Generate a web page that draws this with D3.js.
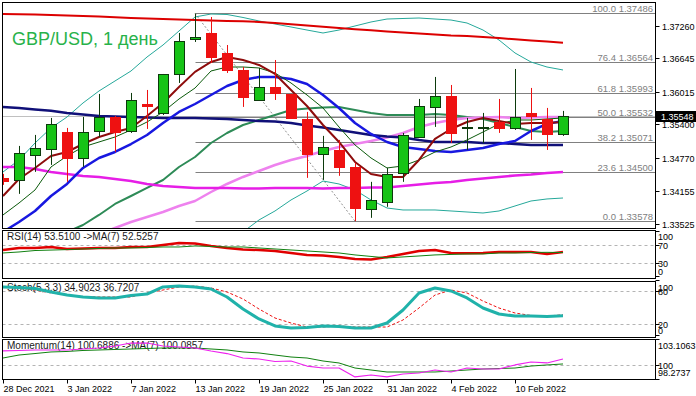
<!DOCTYPE html>
<html>
<head>
<meta charset="utf-8">
<script src="https://cdn.jsdelivr.net/npm/d3@7"></script>
<style>
  html, body { margin: 0; padding: 0; background: #fff; }
  svg { display: block; font-family: "Liberation Sans", Arial, sans-serif; }
</style>
</head>
<body>
<div id="chart"></div>
<script>
// ---- data ----
const dates = ['28 Dec 2021', '29 Dec 2021', '30 Dec 2021', '31 Dec 2021', '3 Jan 2022', '4 Jan 2022',
  '5 Jan 2022', '6 Jan 2022', '7 Jan 2022', '10 Jan 2022', '11 Jan 2022', '12 Jan 2022', '13 Jan 2022',
  '14 Jan 2022', '17 Jan 2022', '18 Jan 2022', '19 Jan 2022', '20 Jan 2022', '21 Jan 2022', '24 Jan 2022',
  '25 Jan 2022', '26 Jan 2022', '27 Jan 2022', '28 Jan 2022', '31 Jan 2022', '1 Feb 2022', '2 Feb 2022',
  '3 Feb 2022', '4 Feb 2022', '7 Feb 2022', '8 Feb 2022', '9 Feb 2022', '10 Feb 2022', '11 Feb 2022',
  '14 Feb 2022', '15 Feb 2022'];
const xTickDates = ['28 Dec 2021', '3 Jan 2022', '7 Jan 2022', '13 Jan 2022', '19 Jan 2022',
  '25 Jan 2022', '31 Jan 2022', '4 Feb 2022', '10 Feb 2022'];

const open = [1.34393, 1.34355, 1.34825, 1.34938, 1.35258, 1.34769, 1.35277, 1.35540, 1.35277, 1.35784, 1.35615, 1.36348,
  1.37006, 1.37119, 1.36743, 1.36423, 1.35859, 1.36104, 1.35972, 1.35502, 1.34844, 1.34919, 1.34600, 1.33810,
  1.33942, 1.34487, 1.35164, 1.35728, 1.35935, 1.35333, 1.35333, 1.35446, 1.35333, 1.35615, 1.35502, 1.35220];
const high = [1.34468, 1.34994, 1.35201, 1.35521, 1.35333, 1.35540, 1.35972, 1.35559, 1.35991, 1.36047, 1.36348, 1.37119,
  1.37486, 1.37420, 1.36893, 1.36480, 1.36461, 1.36611, 1.35972, 1.35634, 1.35183, 1.35107, 1.34675, 1.34318,
  1.34581, 1.35239, 1.35878, 1.36292, 1.36141, 1.35521, 1.35615, 1.35878, 1.36442, 1.36085, 1.35709, 1.35653];
const low = [1.34261, 1.34092, 1.34506, 1.34637, 1.34318, 1.34600, 1.35164, 1.34882, 1.35239, 1.35314, 1.35577, 1.36179,
  1.36950, 1.36555, 1.36367, 1.35728, 1.35859, 1.35859, 1.35502, 1.34393, 1.34355, 1.34431, 1.33578, 1.33641,
  1.33848, 1.34318, 1.35145, 1.35352, 1.35051, 1.34919, 1.35051, 1.35239, 1.35295, 1.35107, 1.34919, 1.35183];
const close = [1.34337, 1.34863, 1.34957, 1.35408, 1.34769, 1.35258, 1.35540, 1.35258, 1.35859, 1.35747, 1.36348, 1.36969,
  1.37044, 1.36668, 1.36423, 1.35916, 1.36104, 1.35991, 1.35521, 1.34844, 1.34976, 1.34600, 1.33829, 1.33979,
  1.34468, 1.35201, 1.35747, 1.35935, 1.35239, 1.35352, 1.35352, 1.35333, 1.35540, 1.35559, 1.35220, 1.35548];

// moving averages on the price chart
const maRed = [1.37476, 1.37473, 1.37467, 1.37458, 1.37448, 1.37439, 1.37429, 1.37414, 1.37401, 1.37392, 1.37382, 1.37373,
  1.37363, 1.37354, 1.37345, 1.37339, 1.37326, 1.37307, 1.37285, 1.37260, 1.37236, 1.37213, 1.37190, 1.37170,
  1.37147, 1.37128, 1.37109, 1.37091, 1.37072, 1.37062, 1.37044, 1.37025, 1.37000, 1.36978, 1.36959, 1.36936];
const maNavy = [1.35727, 1.35708, 1.35680, 1.35655, 1.35614, 1.35586, 1.35557, 1.35548, 1.35538, 1.35529, 1.35520, 1.35520,
  1.35520, 1.35510, 1.35501, 1.35482, 1.35463, 1.35454, 1.35426, 1.35379, 1.35341, 1.35294, 1.35247, 1.35200,
  1.35172, 1.35153, 1.35106, 1.35068, 1.35068, 1.35068, 1.35049, 1.35049, 1.35030, 1.35012, 1.35012, 1.35012];
const maBlue = [1.33375, 1.33563, 1.33770, 1.34052, 1.34278, 1.34579, 1.34767, 1.34880, 1.35030, 1.35200, 1.35425, 1.35633,
  1.35783, 1.35952, 1.36121, 1.36235, 1.36291, 1.36291, 1.36253, 1.36159, 1.35952, 1.35708, 1.35425, 1.35219,
  1.35068, 1.34974, 1.34936, 1.34899, 1.34880, 1.34917, 1.34955, 1.35030, 1.35087, 1.35275, 1.35409, 1.35463];
const maMaroon = [1.34052, 1.34372, 1.34579, 1.34805, 1.34880, 1.35030, 1.35162, 1.35256, 1.35332, 1.35557, 1.35802, 1.36103,
  1.36387, 1.36574, 1.36668, 1.36611, 1.36517, 1.36348, 1.36047, 1.35745, 1.35388, 1.35068, 1.34692, 1.34466,
  1.34410, 1.34410, 1.34730, 1.35125, 1.35313, 1.35444, 1.35520, 1.35463, 1.35407, 1.35425, 1.35425, 1.35444];
const maThin = [1.33695, 1.33920, 1.34165, 1.34598, 1.34805, 1.34974, 1.35068, 1.35162, 1.35294, 1.35444, 1.35633, 1.35877,
  1.36083, 1.36404, 1.36479, 1.36479, 1.36461, 1.36366, 1.36178, 1.35952, 1.35708, 1.35350, 1.35012, 1.34767,
  1.34579, 1.34617, 1.34730, 1.34880, 1.34974, 1.35106, 1.35256, 1.35407, 1.35482, 1.35482, 1.35501, 1.35520];
const maMid = [1.32810, 1.32961, 1.33111, 1.33243, 1.33375, 1.33506, 1.33695, 1.33902, 1.34052, 1.34203, 1.34353, 1.34598,
  1.34786, 1.35049, 1.35237, 1.35388, 1.35482, 1.35576, 1.35670, 1.35698, 1.35717, 1.35727, 1.35670, 1.35614,
  1.35576, 1.35576, 1.35576, 1.35595, 1.35576, 1.35538, 1.35501, 1.35425, 1.35350, 1.35275, 1.35256, 1.35275];
const maViolet = [1.32641, 1.32754, 1.32867, 1.32980, 1.33092, 1.33224, 1.33337, 1.33450, 1.33563, 1.33657, 1.33751, 1.33864,
  1.33958, 1.34127, 1.34278, 1.34410, 1.34522, 1.34635, 1.34729, 1.34805, 1.34899, 1.34974, 1.35030, 1.35087,
  1.35153, 1.35237, 1.35350, 1.35426, 1.35482, 1.35520, 1.35529, 1.35538, 1.35520, 1.35529, 1.35538, 1.35538];
const maMagenta = [1.34598, 1.34598, 1.34560, 1.34504, 1.34466, 1.34428, 1.34410, 1.34372, 1.34334, 1.34278, 1.34240, 1.34221,
  1.34203, 1.34203, 1.34203, 1.34193, 1.34193, 1.34203, 1.34203, 1.34203, 1.34193, 1.34203, 1.34203, 1.34212,
  1.34212, 1.34240, 1.34268, 1.34297, 1.34316, 1.34353, 1.34381, 1.34410, 1.34438, 1.34457, 1.34485, 1.34504];
const bbUpper = [1.34504, 1.34729, 1.35049, 1.35332, 1.35538, 1.35802, 1.36028, 1.36216, 1.36404, 1.36667, 1.36893, 1.37157,
  1.37420, 1.37476, 1.37467, 1.37411, 1.37345, 1.37288, 1.37232, 1.37175, 1.37119, 1.37175, 1.37251, 1.37326,
  1.37382, 1.37392, 1.37401, 1.37382, 1.37363, 1.37307, 1.37175, 1.36987, 1.36743, 1.36573, 1.36479, 1.36423];
const bbLower = [1.31117, 1.31192, 1.31173, 1.31155, 1.31211, 1.31211, 1.31362, 1.31587, 1.31700, 1.31738, 1.31813, 1.32039,
  1.32152, 1.32622, 1.33008, 1.33375, 1.33601, 1.33770, 1.33977, 1.34146, 1.34334, 1.34278, 1.34165, 1.33977,
  1.33826, 1.33789, 1.33789, 1.33789, 1.33770, 1.33751, 1.33732, 1.33770, 1.33864, 1.33958, 1.33996, 1.34014];

// fibonacci retracement, drawn from the 13 Jan high to the 27 Jan low
const fibLevels = ['100.0', '76.4', '61.8', '50.0', '38.2', '23.6', '0.0'];
const fibPrices = [1.37486, 1.36564, 1.35993, 1.35532, 1.35071, 1.34500, 1.33578];
const priceTicks = [1.37260, 1.36645, 1.36015, 1.35400, 1.34770, 1.34155, 1.33525];

// oscillators
const rsi = [58, 62.6, 62.6, 64.8, 60.4, 61.5, 62.6, 62.6, 64.8, 64.8, 69.2, 73.6, 72.5, 67, 62.6, 59.3, 58.2, 56,
  51.6, 47.3, 46, 42.9, 38.5, 37.4, 42.9, 49.5, 56, 58.2, 51.6, 51, 51.6, 53.8, 53.8, 53.8, 49.5, 53.51];
const rsiMa = [51.6, 53.8, 57, 58, 59, 60.4, 61.5, 62.6, 62.6, 63.7, 64.8, 64.8, 67, 66, 64.8, 64.8, 62.6, 60.4,
  58.2, 56, 53.8, 51.6, 47.3, 44, 40.7, 42.9, 45, 47.3, 48.4, 49.5, 49.5, 51.6, 51.6, 52.7, 53, 52.53];
const stochK = [87.3, 86.4, 84.5, 78.2, 72.7, 69.1, 67.3, 67.3, 71.8, 74.5, 87.3, 89.1, 87.3, 83.6, 69.1, 47.3, 29.1, 16.4,
  12.7, 13.6, 16.4, 15.5, 12.7, 12.7, 21.8, 45.5, 76.4, 85.5, 80, 67.3, 49.1, 38.2, 34.5, 34.5, 33.6, 34.9];
const stochD = [87.3, 85.5, 81.8, 76.4, 72.7, 70, 69.1, 69.1, 69.1, 76.4, 81.8, 87.3, 89.1, 85.5, 78.2, 65.5, 47.3, 30.9,
  21.8, 14.5, 14.5, 16.4, 14.5, 14.5, 14.5, 27.3, 49.1, 72.7, 81.8, 76.4, 61.8, 49.1, 40, 35.5, 34.5, 36.72];
const mom = [101.66, 101.72, 101.78, 101.78, 101.78, 101.90, 102.02, 102.26, 102.62, 102.62, 102.26, 102.14, 102.02, 101.66,
  101.35, 100.81, 100.69, 100.39, 100.45, 99.84, 99.60, 99.60, 98.52, 98.76, 98.52, 98.88, 99.00, 99.36, 99.12,
  99.60, 99.48, 99.48, 99.97, 100.33, 100.21, 100.69];
const momMa = [100.81, 101.17, 101.35, 101.54, 101.60, 101.72, 101.78, 101.84, 101.90, 101.96, 102.02, 102.02, 102.02, 101.90,
  101.78, 101.54, 101.42, 101.17, 100.93, 100.81, 100.45, 100.21, 99.60, 99.36, 99.12, 99.12, 99.12, 99.12, 99.24,
  99.36, 99.48, 99.54, 99.60, 99.84, 99.97, 100.09];

const rsiTicks = [100, 70, 30, 0];
const stochTicks = [100, 80, 20, 0];
const momTicks = [103.1063, 100, 98.2737];

// ---- layout ----
const W = 696, H = 396;
const L = 2.5, R = 655.5;
const panels = {
  main: { top: 2.5, bottom: 228.5 },
  rsi: { top: 230.5, bottom: 278.5 },
  stoch: { top: 281.5, bottom: 337.5 },
  mom: { top: 339.5, bottom: 379.5 }
};

const svg = d3.select('#chart').append('svg')
  .attr('width', W).attr('height', H)
  .attr('viewBox', `0 0 ${W} ${H}`);

const x = d3.scaleLinear().domain([0, dates.length - 1]).range([3, 563]);
const yPrice = d3.scaleLinear().domain([1.33525, 1.37260]).range([224, 25.5]);
const yRsi = d3.scaleLinear().domain([0, 100]).range([276.4, 231]);
const yStoch = d3.scaleLinear().domain([0, 100]).range([335, 280]);
const yMom = d3.scaleLinear().domain([98.2737, 103.1063]).range([379, 339]);

const px = i => Math.round(x(i)) + 0.5;

// clip paths, one per panel
const defs = svg.append('defs');
Object.entries(panels).forEach(([name, p]) => {
  defs.append('clipPath').attr('id', 'clip-' + name)
    .append('rect')
    .attr('x', L).attr('y', p.top)
    .attr('width', R - L).attr('height', p.bottom - p.top);
});

function panelGroup(name) {
  return svg.append('g').attr('clip-path', `url(#clip-${name})`);
}

function drawLine(g, values, yScale, color, width, dash) {
  const line = d3.line().x((d, i) => x(i)).y(d => yScale(d));
  g.append('path')
    .datum(values)
    .attr('d', line)
    .attr('fill', 'none')
    .attr('stroke', color)
    .attr('stroke-width', width)
    .attr('stroke-linejoin', 'round')
    .attr('stroke-dasharray', dash || null);
}

// ---- main price panel ----
const gMain = panelGroup('main');

// bid line
const bidY = Math.round(yPrice(close[close.length - 1])) + 0.5;
gMain.append('line')
  .attr('x1', L).attr('x2', R)
  .attr('y1', bidY).attr('y2', bidY)
  .attr('stroke', '#c0c0c0');

// fib levels
const fibStart = px(12);
fibPrices.forEach((p, k) => {
  const yy = Math.round(yPrice(p)) + 0.5;
  gMain.append('line')
    .attr('x1', fibStart).attr('x2', R)
    .attr('y1', yy).attr('y2', yy)
    .attr('stroke', '#808080');
  gMain.append('text')
    .attr('x', 653).attr('y', yy - 2)
    .attr('text-anchor', 'end')
    .style('font-size', '9.5px')
    .style('fill', '#808080')
    .text(`${fibLevels[k]} ${p.toFixed(5)}`);
});

// fib trend line (high to low)
gMain.append('line')
  .attr('x1', x(12)).attr('y1', yPrice(high[12]))
  .attr('x2', x(22)).attr('y2', yPrice(low[22]))
  .attr('stroke', '#909090')
  .attr('stroke-dasharray', '2,2');

// title
gMain.append('text')
  .attr('x', 12).attr('y', 45)
  .style('font-size', '18px')
  .style('fill', '#27b24a')
  .text('GBP/USD, 1 день');

// indicator lines
drawLine(gMain, bbUpper, yPrice, '#25a89a', 1);
drawLine(gMain, bbLower, yPrice, '#25a89a', 1);
drawLine(gMain, maMid, yPrice, '#2e8b57', 2);
drawLine(gMain, maViolet, yPrice, '#ee82ee', 2.5);
drawLine(gMain, maMagenta, yPrice, '#e61ee6', 2.5);
drawLine(gMain, maNavy, yPrice, '#101078', 2.5);
drawLine(gMain, maRed, yPrice, '#dc0000', 2);
drawLine(gMain, maBlue, yPrice, '#1818e0', 2.5);
drawLine(gMain, maThin, yPrice, '#0b5a0b', 1);
drawLine(gMain, maMaroon, yPrice, '#8e0c0c', 2);

// candles
const candles = gMain.append('g').attr('class', 'candles');
dates.forEach((d, i) => {
  const up = close[i] >= open[i];
  const cx = px(i);
  const yTop = Math.round(yPrice(Math.max(open[i], close[i])));
  const yBot = Math.round(yPrice(Math.min(open[i], close[i])));
  candles.append('line')
    .attr('x1', cx).attr('x2', cx)
    .attr('y1', yPrice(high[i])).attr('y2', yPrice(low[i]))
    .attr('stroke', up ? '#0c3a0c' : '#ee1111');
  candles.append('rect')
    .attr('x', cx - 5).attr('y', yTop + 0.5)
    .attr('width', 10).attr('height', Math.max(0, yBot - yTop))
    .attr('fill', up ? '#16c316' : '#ee1111')
    .attr('stroke', up ? '#0c3a0c' : '#ee1111');
});

// ---- oscillator panels ----
function dashedLevel(g, yy) {
  g.append('line')
    .attr('x1', L).attr('x2', R)
    .attr('y1', Math.round(yy) + 0.5).attr('y2', Math.round(yy) + 0.5)
    .attr('stroke', '#b4b4b4')
    .attr('stroke-dasharray', '3,3');
}

function panelLabel(g, p, text) {
  g.append('text')
    .attr('x', 7).attr('y', p.top + 9)
    .style('font-size', '10px')
    .style('fill', '#1a1a1a')
    .text(text);
}

const gRsi = panelGroup('rsi');
dashedLevel(gRsi, yRsi(70));
dashedLevel(gRsi, yRsi(30));
panelLabel(gRsi, panels.rsi, 'RSI(14) 53.5100  ->MA(7) 52.5257');
drawLine(gRsi, rsi, yRsi, '#e00000', 2.5);
drawLine(gRsi, rsiMa, yRsi, '#108010', 1);

const gStoch = panelGroup('stoch');
dashedLevel(gStoch, yStoch(80));
dashedLevel(gStoch, yStoch(20));
panelLabel(gStoch, panels.stoch, 'Stoch(5,3,3) 34.9023 36.7207');
drawLine(gStoch, stochD, yStoch, '#ee1111', 1, '3,2');
drawLine(gStoch, stochK, yStoch, '#20b2aa', 3);

const gMom = panelGroup('mom');
dashedLevel(gMom, yMom(100));
panelLabel(gMom, panels.mom, 'Momentum(14) 100.6886  ->MA(7) 100.0857');
drawLine(gMom, momMa, yMom, '#108010', 1);
drawLine(gMom, mom, yMom, '#ee22ee', 1.2);

// ---- frames ----
Object.values(panels).forEach(p => {
  svg.append('rect')
    .attr('x', L).attr('y', p.top)
    .attr('width', R - L).attr('height', p.bottom - p.top)
    .attr('fill', 'none')
    .attr('stroke', '#000');
});

// ---- right axes ----
const axisG = svg.append('g').style('font-size', '9px').style('fill', '#000');

priceTicks.forEach(t => {
  const yy = Math.round(yPrice(t)) + 0.5;
  axisG.append('line').attr('x1', R).attr('x2', R + 4).attr('y1', yy).attr('y2', yy).attr('stroke', '#000');
  axisG.append('text').attr('x', 662).attr('y', yy).attr('dy', '0.35em').text(t.toFixed(5));
});

// labels are kept inside their panel, so the end ones overlap like in MT4
function subAxis(ticks, yScale, p, fmt) {
  ticks.forEach(t => {
    const yy = Math.min(Math.max(yScale(t) + 1, p.top + 6), p.bottom - 7);
    axisG.append('line').attr('x1', R).attr('x2', R + 4)
      .attr('y1', Math.round(yScale(t)) + 0.5).attr('y2', Math.round(yScale(t)) + 0.5)
      .attr('stroke', '#000');
    axisG.append('text').attr('x', 658).attr('y', yy).attr('dy', '0.35em').text(fmt(t));
  });
}
subAxis(rsiTicks, yRsi, panels.rsi, d => d);
subAxis(stochTicks, yStoch, panels.stoch, d => d);
subAxis(momTicks, yMom, panels.mom, d => (d === 100 ? '100' : d.toFixed(4)));

// current price tag
const lastY = yPrice(close[close.length - 1]);
svg.append('rect')
  .attr('x', 656).attr('y', Math.round(lastY) - 5)
  .attr('width', 40).attr('height', 11)
  .attr('fill', '#000');
svg.append('text')
  .attr('x', 661).attr('y', lastY).attr('dy', '0.35em')
  .style('font-size', '9px').style('fill', '#fff')
  .text(close[close.length - 1].toFixed(5));

// ---- time axis ----
xTickDates.forEach(label => {
  const i = dates.indexOf(label);
  const xx = px(i);
  svg.append('line')
    .attr('x1', xx).attr('x2', xx)
    .attr('y1', panels.mom.bottom).attr('y2', panels.mom.bottom + 4)
    .attr('stroke', '#000');
  svg.append('text')
    .attr('x', xx).attr('y', 392)
    .style('font-size', '9px')
    .text(label);
});
</script>
</body>
</html>
